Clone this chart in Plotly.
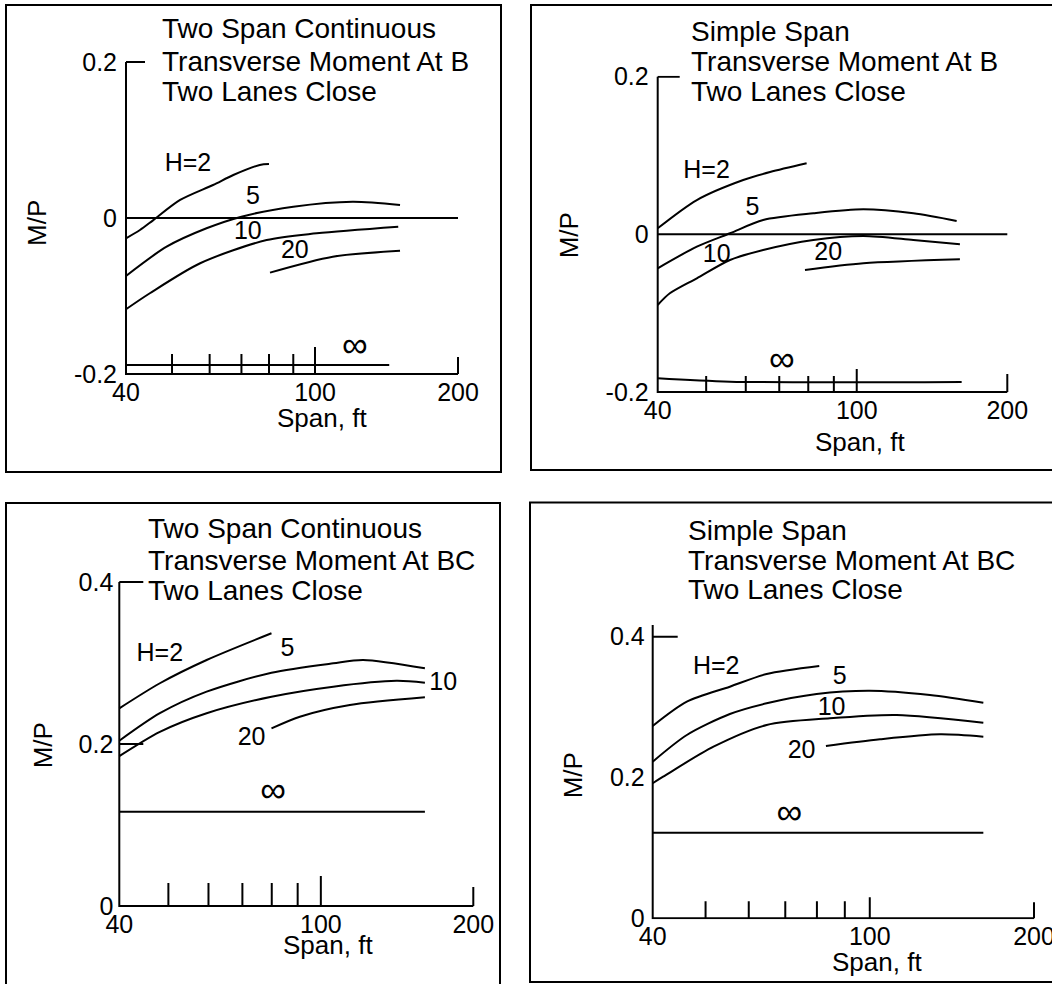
import math
import plotly.graph_objects as go

W, H = 1052, 984

# ---------------- data ----------------
X_TICK_VALS = [40, 100, 200]
X_TICK_TEXT = ["40", "100", "200"]
SPAN_MARKS = [50, 60, 70, 80, 90, 100, 200]
Y_TICKS_B = [-0.2, 0, 0.2]
Y_TEXT_B = ["-0.2", "0", "0.2"]
Y_TICKS_BC = [0, 0.2, 0.4]
Y_TEXT_BC = ["0", "0.2", "0.4"]
CURVE_TEXT = ["H=2", "5", "10", "20", "\u221e"]

TITLES = [
    ["Two Span Continuous", "Transverse Moment At B", "Two Lanes Close"],
    ["Simple Span", "Transverse Moment At B", "Two Lanes Close"],
    ["Two Span Continuous", "Transverse Moment At BC", "Two Lanes Close"],
    ["Simple Span", "Transverse Moment At BC", "Two Lanes Close"],
]

# Panel 1: two span continuous, moment at B
P1_H2_X = [40, 42.8, 45.6, 52, 61, 67.3, 76.5, 80]
P1_H2_Y = [-0.026, -0.0154, -0.003, 0.0231, 0.0423, 0.0551, 0.068, 0.0692]
P1_H5_X = [40, 48.7, 59.1, 70, 90, 120, 151]
P1_H5_Y = [-0.0743, -0.0368, -0.0132, 0.0017, 0.0145, 0.0209, 0.0167]
P1_H10_X = [40, 44.9, 57.3, 79.1, 100.8, 149.7]
P1_H10_Y = [-0.117, -0.0965, -0.058, -0.0282, -0.0196, -0.0111]
P1_H20_X = [80.4, 109, 151]
P1_H20_Y = [-0.070, -0.0496, -0.0419]
P1_INF_X = [40, 143.3]
P1_INF_Y = [-0.1885, -0.1885]
P1_LBL_X = [54.0, 74.0, 72.2, 90.7, 121.3]
P1_LBL_Y = [0.068, 0.0256, -0.019, -0.0436, -0.1667]

# Panel 2: simple span, moment at B
P2_H2_X = [40, 47.9, 59.3, 67.1, 79.4]
P2_H2_Y = [0.0076, 0.0435, 0.0689, 0.079, 0.0901]
P2_H5_X = [40, 47.9, 55.8, 65.0, 81.9, 103.1, 129.8, 158.4]
P2_H5_Y = [-0.0431, -0.0157, 0.0013, 0.0181, 0.0266, 0.0317, 0.0266, 0.0169]
P2_H10_X = [40, 42.3, 47.9, 55.8, 65, 81.9, 103.1, 129.8, 160.8]
P2_H10_Y = [-0.0897, -0.0749, -0.0558, -0.0326, -0.0199, -0.0072, -0.0022, -0.0072, -0.0127]
P2_H20_X = [78.8, 103.1, 160.8]
P2_H20_Y = [-0.0453, -0.0368, -0.0317]
P2_INF_X = [40, 55.8, 162.1]
P2_INF_Y = [-0.1828, -0.187, -0.1874]
P2_LBL_X = [50.1, 61.9, 52.5, 87.7, 70.8]
P2_LBL_Y = [0.0794, 0.033, -0.0275, -0.025, -0.1617]

# Panel 3: two span continuous, moment at BC
P3_H2_X = [40, 48.1, 59.5, 79.9]
P3_H2_Y = [0.244, 0.275, 0.3037, 0.3367]
P3_H5_X = [40, 48.1, 59.5, 79.9, 105.8, 121.2, 160.5]
P3_H5_Y = [0.204, 0.238, 0.2646, 0.288, 0.2996, 0.3037, 0.2934]
P3_H10_X = [40, 48.1, 59.5, 79.9, 105.8, 141, 160.5]
P3_H10_Y = [0.185, 0.215, 0.238, 0.2584, 0.2708, 0.278, 0.2757]
P3_H20_X = [79.9, 90.9, 114.1, 160.5]
P3_H20_Y = [0.2193, 0.2337, 0.2481, 0.2576]
P3_INF_X = [40, 160.5]
P3_INF_Y = [0.1165, 0.1165]
P3_LBL_X = [48.1, 85.9, 174.4, 73.0, 80.5]
P3_LBL_Y = [0.31, 0.316, 0.275, 0.207, 0.139]

# Panel 4: simple span, moment at BC
P4_H2_X = [40, 46.2, 55.4, 64.7, 80.8]
P4_H2_Y = [0.2732, 0.3077, 0.329, 0.347, 0.3584]
P4_H5_X = [40, 46.2, 55.4, 64.7, 79.9, 100, 128.9, 161.5]
P4_H5_Y = [0.2225, 0.2604, 0.2902, 0.3054, 0.3186, 0.3233, 0.3172, 0.3063]
P4_H10_X = [40, 41.8, 51.7, 64.7, 84.5, 112, 161.5]
P4_H10_Y = [0.1918, 0.2011, 0.2438, 0.2746, 0.2841, 0.2888, 0.2779]
P4_H20_X = [83.1, 104.4, 134.5, 161.5]
P4_H20_Y = [0.2448, 0.2543, 0.2614, 0.258]
P4_INF_X = [40, 161.5]
P4_INF_Y = [0.1216, 0.1216]
P4_LBL_X = [52.3, 88.1, 85.1, 75, 71.2]
P4_LBL_Y = [0.356, 0.342, 0.297, 0.2367, 0.1467]

# ---------------- layout / style ----------------
FONT = "Liberation Sans, Arial, Helvetica, sans-serif"
FS = 25
PADX = 3
PADY = 1

# pixel geometry of each panel: x40, x200, px of y-high value, px of y-low value
GEOM = [
    dict(x40=126, x200=458, yhi_px=62, ylo_px=374, yhi=0.2, ylo=-0.2, ytop=0.2,
         ticks=Y_TICKS_B, ttext=Y_TEXT_B, mark_len=[20, 20, 20, 20, 20, 27, 17],
         ytick=[(0.2, 19)], zero=True, ystand=3,
         curves=[(P1_H2_X, P1_H2_Y), (P1_H5_X, P1_H5_Y), (P1_H10_X, P1_H10_Y),
                 (P1_H20_X, P1_H20_Y), (P1_INF_X, P1_INF_Y)],
         lbl=(P1_LBL_X, P1_LBL_Y), span=(322, 418), mp=(37, 223),
         tx=159.7, ty=[28.3, 61.7, 91.7]),
    dict(x40=657.7, x200=1007.3, yhi_px=76.7, ylo_px=391.9, yhi=0.2, ylo=-0.2, ytop=0.2,
         ticks=Y_TICKS_B, ttext=Y_TEXT_B, mark_len=[16, 16, 16, 16, 16, 23, 18],
         ytick=[(0.2, 22)], zero=True, ystand=3,
         curves=[(P2_H2_X, P2_H2_Y), (P2_H5_X, P2_H5_Y), (P2_H10_X, P2_H10_Y),
                 (P2_H20_X, P2_H20_Y), (P2_INF_X, P2_INF_Y)],
         lbl=(P2_LBL_X, P2_LBL_Y), span=(860, 441.7), mp=(569.3, 235),
         tx=689, ty=[31.7, 61.7, 91.7]),
    dict(x40=119.3, x200=473.3, yhi_px=582, ylo_px=906, yhi=0.4, ylo=0.0, ytop=0.4,
         ticks=Y_TICKS_BC, ttext=Y_TEXT_BC, mark_len=[23, 23, 23, 23, 23, 30, 19],
         ytick=[(0.4, 24), (0.2, 24)], zero=False, ystand=0,
         curves=[(P3_H2_X, P3_H2_Y), (P3_H5_X, P3_H5_Y), (P3_H10_X, P3_H10_Y),
                 (P3_H20_X, P3_H20_Y), (P3_INF_X, P3_INF_Y)],
         lbl=(P3_LBL_X, P3_LBL_Y), span=(328.3, 945), mp=(43.3, 745),
         tx=146.3, ty=[528.3, 560, 590]),
    dict(x40=652.7, x200=1034, yhi_px=636.7, ylo_px=918.3, yhi=0.4, ylo=0.0, ytop=0.4166,
         ticks=Y_TICKS_BC, ttext=Y_TEXT_BC, mark_len=[17, 17, 17, 17, 17, 21, 16],
         ytick=[(0.4, 25)], zero=False, ystand=2,
         curves=[(P4_H2_X, P4_H2_Y), (P4_H5_X, P4_H5_Y), (P4_H10_X, P4_H10_Y),
                 (P4_H20_X, P4_H20_Y), (P4_INF_X, P4_INF_Y)],
         lbl=(P4_LBL_X, P4_LBL_Y), span=(876.7, 961.7), mp=(573.3, 775),
         tx=685.7, ty=[530, 560.7, 589.3]),
]

BOXES = [(6, 5, 501, 472), (531, 5, 1070, 470), (6, 503, 500, 1000), (530, 502.5, 1070, 982)]

fig = go.Figure()
LINE = dict(color="black", width=2)
L40, L200 = math.log10(40), math.log10(200)

for i, g in enumerate(GEOM, start=1):
    xa = "x" if i == 1 else f"x{i}"
    ya = "y" if i == 1 else f"y{i}"
    kx = (g["x200"] - g["x40"]) / (L200 - L40)
    ky = (g["ylo_px"] - g["yhi_px"]) / (g["yhi"] - g["ylo"])
    top_px = g["yhi_px"] - (g["ytop"] - g["yhi"]) * ky

    fig.layout[f"xaxis{i}"] = dict(
        type="log", range=[L40 - PADX / kx, L200 + PADX / kx],
        domain=[(g["x40"] - PADX) / W, (g["x200"] + PADX) / W],
        anchor=ya, showgrid=False, zeroline=False, showline=False, ticks="",
        automargin=False, ticklabeloverflow="allow",
        tickmode="array", tickvals=X_TICK_VALS, ticktext=X_TICK_TEXT,
        tickfont=dict(family=FONT, size=FS, color="black"), fixedrange=True)
    fig.layout[f"yaxis{i}"] = dict(
        range=[g["ylo"] - PADY / ky, g["ytop"] + PADY / ky],
        domain=[1 - (g["ylo_px"] + PADY) / H, 1 - (top_px - PADY) / H],
        anchor=xa, showgrid=False, zeroline=False, showline=False, ticks="",
        automargin=False, ticklabeloverflow="allow",
        ticklabelstandoff=g["ystand"] + PADX - PADY,
        tickmode="array", tickvals=g["ticks"], ticktext=g["ttext"],
        tickfont=dict(family=FONT, size=FS, color="black"), fixedrange=True)

    # axis frame (L shape)
    fig.add_trace(go.Scatter(x=[40, 40, 200], y=[g["ytop"], g["ylo"], g["ylo"]],
                             mode="lines", line=LINE, xaxis=xa, yaxis=ya,
                             hoverinfo="skip", showlegend=False))
    # span tick marks
    mx, my = [], []
    for v, ln in zip(SPAN_MARKS, g["mark_len"]):
        mx += [v, v, None]
        my += [g["ylo"], g["ylo"] + ln / ky, None]
    for yv, ln in g["ytick"]:
        mx += [40, 10 ** (L40 + ln / kx), None]
        my += [yv, yv, None]
    fig.add_trace(go.Scatter(x=mx, y=my, mode="lines", line=LINE, xaxis=xa, yaxis=ya,
                             hoverinfo="skip", showlegend=False))
    if g["zero"]:
        fig.add_trace(go.Scatter(x=[40, 200], y=[0, 0], mode="lines", line=LINE,
                                 xaxis=xa, yaxis=ya, hoverinfo="skip", showlegend=False))
    for cx, cy in g["curves"]:
        fig.add_trace(go.Scatter(x=cx, y=cy, mode="lines",
                                 line=dict(color="black", width=2, shape="spline", smoothing=0.8),
                                 xaxis=xa, yaxis=ya, hoverinfo="skip", showlegend=False))
    lx, ly = g["lbl"]
    fig.add_trace(go.Scatter(x=lx[:4], y=ly[:4], text=CURVE_TEXT[:4], mode="text",
                             textfont=dict(family=FONT, size=25, color="black"),
                             cliponaxis=False, xaxis=xa, yaxis=ya,
                             hoverinfo="skip", showlegend=False))
    fig.add_trace(go.Scatter(x=lx[4:], y=ly[4:], text=CURVE_TEXT[4:], mode="text",
                             textfont=dict(family=FONT, size=36, color="black"),
                             cliponaxis=False, xaxis=xa, yaxis=ya,
                             hoverinfo="skip", showlegend=False))

    # titles
    for line, ty in zip(TITLES[i - 1], g["ty"]):
        fig.add_annotation(x=g["tx"] / W, y=1 - ty / H, xref="paper", yref="paper",
                           text=line, showarrow=False, xanchor="left", yanchor="middle",
                           font=dict(family=FONT, size=28, color="black"))
    fig.add_annotation(x=g["span"][0] / W, y=1 - g["span"][1] / H, xref="paper", yref="paper",
                       text="Span, ft", showarrow=False, xanchor="center", yanchor="middle",
                       font=dict(family=FONT, size=26, color="black"))
    fig.add_annotation(x=g["mp"][0] / W, y=1 - g["mp"][1] / H, xref="paper", yref="paper",
                       text="M/P", showarrow=False, textangle=-90, xanchor="center",
                       yanchor="middle", font=dict(family=FONT, size=26, color="black"))

for x0, y0, x1, y1 in BOXES:
    fig.add_shape(type="rect", xref="paper", yref="paper",
                  x0=x0 / W, x1=x1 / W, y0=1 - y0 / H, y1=1 - y1 / H,
                  line=dict(color="black", width=2), fillcolor="rgba(0,0,0,0)")

fig.update_layout(width=W, height=H,
                  margin=dict(l=0, r=0, t=0, b=0, pad=0, autoexpand=False),
                  paper_bgcolor="white", plot_bgcolor="white", showlegend=False,
                  font=dict(family=FONT, color="black"))

fig.write_html("out.html", config={"responsive": False, "displayModeBar": False},
               post_script="document.body.style.margin='0';"
                           "document.body.style.overflow='hidden';")
